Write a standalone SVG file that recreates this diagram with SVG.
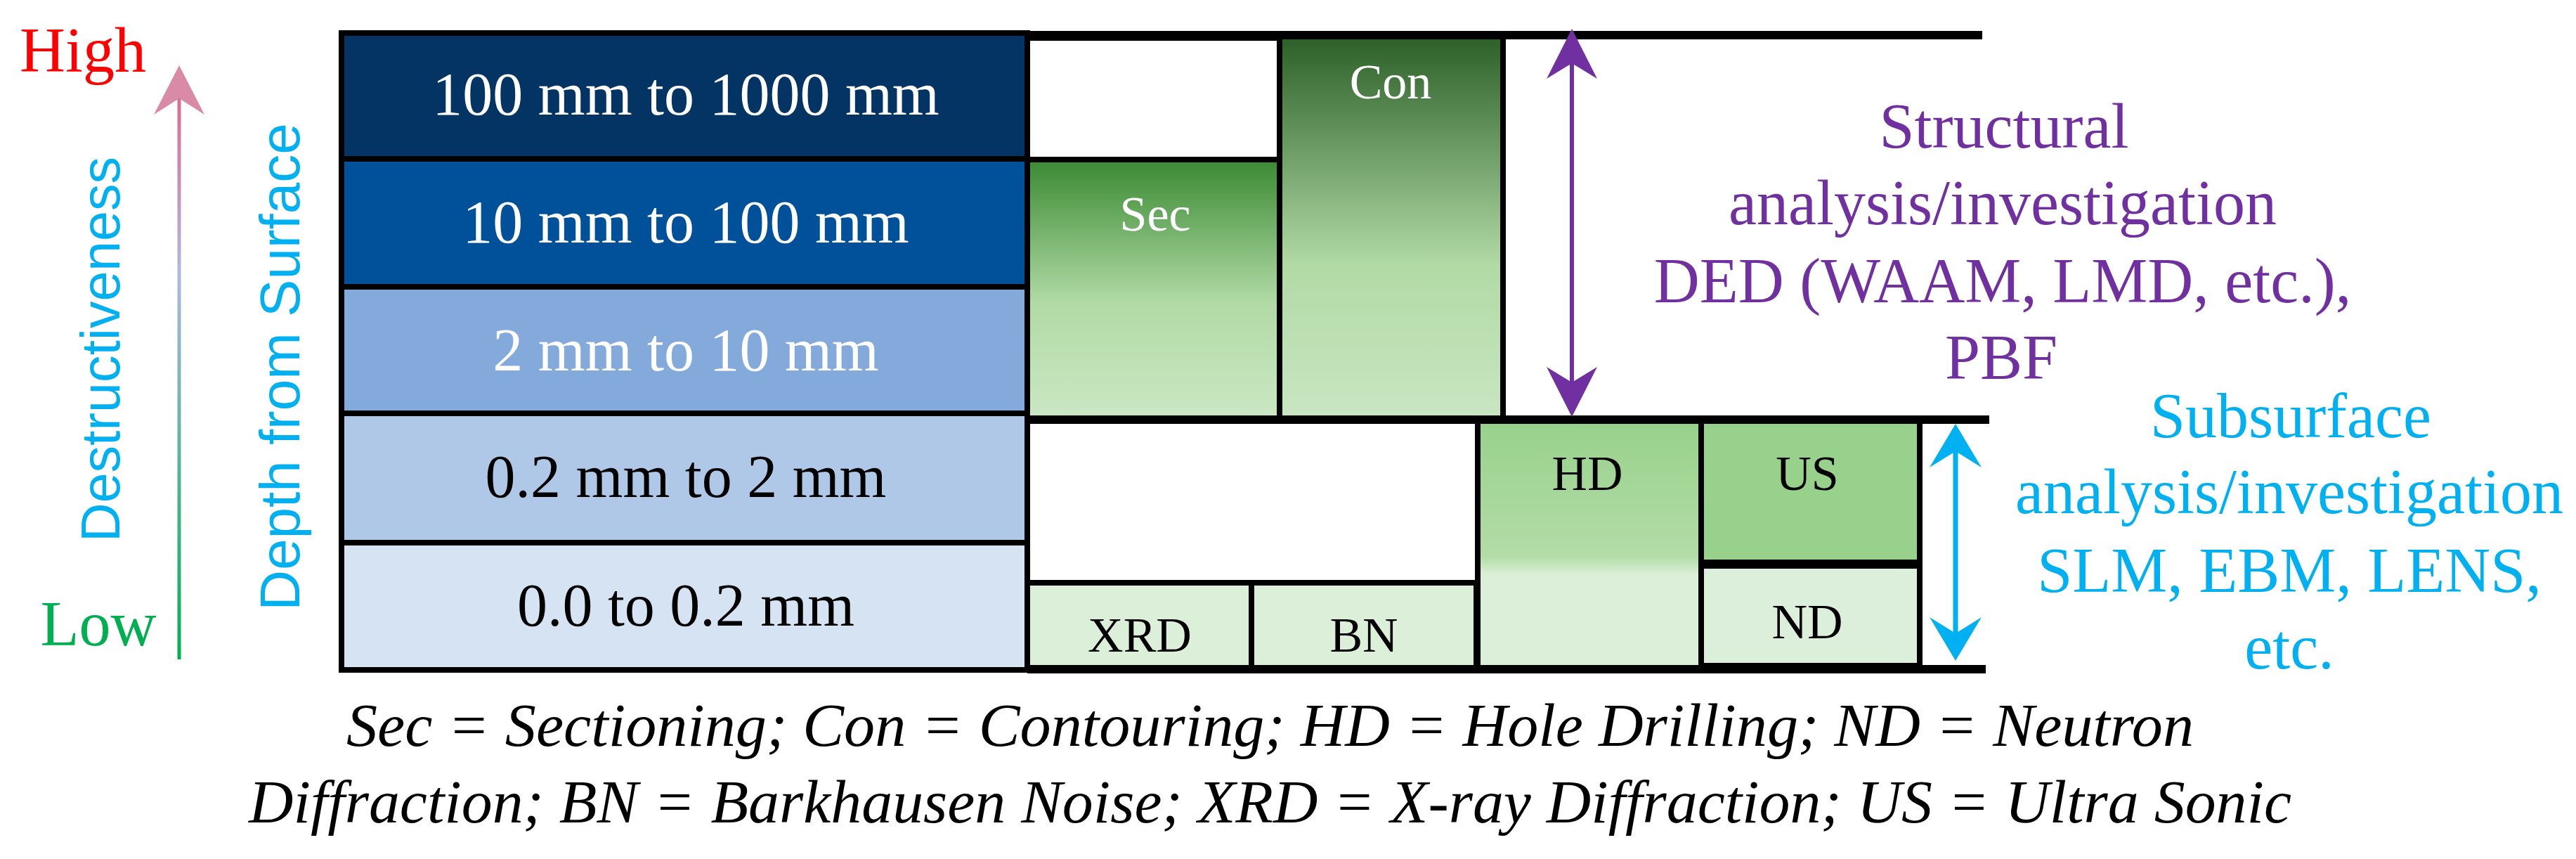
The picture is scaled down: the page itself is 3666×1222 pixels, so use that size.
<svg xmlns="http://www.w3.org/2000/svg" width="3666" height="1222" viewBox="0 0 3666 1222">
<style>
.t{font-family:"Liberation Serif","Times New Roman",serif;text-anchor:middle}
.s{font-family:"Liberation Sans",Arial,sans-serif;text-anchor:middle;fill:#00b0f0}
.row{font-size:86px}
.box{stroke:#000;stroke-width:8}
.lbl{font-size:70px}
.purple{fill:#7030a0;font-size:90px}
.blue{fill:#00b0f0;font-size:90px}
.cap{font-size:86px;font-style:italic;text-anchor:start}
</style>
<defs>
<linearGradient id="gSec" x1="0" y1="0" x2="0" y2="1">
<stop offset="0" stop-color="#3a8a33"/><stop offset="0.55" stop-color="#b1daa5"/><stop offset="1" stop-color="#cbe8c4"/>
</linearGradient>
<linearGradient id="gCon" x1="0" y1="0" x2="0" y2="1">
<stop offset="0" stop-color="#2a5e26"/><stop offset="0.6" stop-color="#b1daa5"/><stop offset="1" stop-color="#c9e6c2"/>
</linearGradient>
<linearGradient id="gHD" x1="0" y1="0" x2="0" y2="1">
<stop offset="0" stop-color="#97d18b"/><stop offset="0.55" stop-color="#b3dca7"/><stop offset="0.62" stop-color="#dcefd8"/><stop offset="1" stop-color="#dcefd8"/>
</linearGradient>
<linearGradient id="gArr" x1="0" y1="938" x2="0" y2="93" gradientUnits="userSpaceOnUse">
<stop offset="0" stop-color="#00b050"/><stop offset="0.65" stop-color="#b0b8e0"/><stop offset="1" stop-color="#e06080"/>
</linearGradient>
</defs>

<g id="axis">
<text class="t" x="118" y="102" font-size="90" fill="#ff0000">High</text>
<text class="t" x="140" y="918" font-size="90" fill="#00b050">Low</text>
<line x1="255" y1="938" x2="255" y2="140" stroke="url(#gArr)" stroke-width="5"/>
<path d="M255,93 L291,163 L255,140 L219,163 Z" fill="#d98aa6"/>
<text class="s" transform="translate(170,497) rotate(-90)" font-size="77">Destructiveness</text>
<text class="s" transform="translate(426,522) rotate(-90)" font-size="80">Depth from Surface</text>
</g>

<g id="depth-table">
<rect class="box" x="486" y="47" width="976" height="179" fill="#033463"/>
<rect class="box" x="486" y="226" width="976" height="182" fill="#01519a"/>
<rect class="box" x="486" y="408" width="976" height="180" fill="#84aadc"/>
<rect class="box" x="486" y="588" width="976" height="184" fill="#afc8e8"/>
<rect class="box" x="486" y="772" width="976" height="181" fill="#d6e3f3"/>
<text class="t row" x="976" y="163" fill="#fff">100 mm to 1000 mm</text>
<text class="t row" x="976" y="345" fill="#fff">10 mm to 100 mm</text>
<text class="t row" x="976" y="527" fill="#fff">2 mm to 10 mm</text>
<text class="t row" x="976" y="707" fill="#000">0.2 mm to 2 mm</text>
<text class="t row" x="976" y="890" fill="#000">0.0 to 0.2 mm</text>
</g>

<g id="empty-top"><rect class="box" x="1462" y="54" width="359" height="173" fill="#fff"/></g>
<g id="sec"><rect class="box" x="1462" y="227" width="359" height="370" fill="url(#gSec)"/>
<text class="t lbl" x="1644" y="328" fill="#fff">Sec</text></g>
<g id="con"><rect class="box" x="1821" y="48" width="318" height="549" fill="url(#gCon)"/>
<text class="t lbl" x="1979" y="140" fill="#fff">Con</text></g>
<g id="empty-bottom"><rect class="box" x="1462" y="597" width="641" height="232" fill="#fff"/></g>
<g id="xrd"><rect class="box" x="1462" y="829" width="319" height="123" fill="#dcefd8"/>
<text class="t lbl" x="1622" y="927" fill="#000">XRD</text></g>
<g id="bn"><rect class="box" x="1781" y="829" width="320" height="123" fill="#dcefd8"/>
<text class="t lbl" x="1941" y="927" fill="#000">BN</text></g>
<g id="hd"><rect class="box" x="2103" y="597" width="318" height="355" fill="url(#gHD)"/>
<text class="t lbl" x="2259" y="697" fill="#000">HD</text></g>
<g id="us"><rect class="box" x="2421" y="597" width="311" height="203" fill="#98d18c"/>
<text class="t lbl" x="2572" y="697" fill="#000">US</text></g>
<g id="nd"><rect class="box" x="2421" y="805" width="311" height="142" fill="#dcefdb"/>
<text class="t lbl" x="2572" y="908" fill="#000">ND</text></g>

<g id="connectors">
<line x1="1462" y1="50" x2="2821" y2="50" stroke="#000" stroke-width="12"/>
<line x1="1462" y1="597" x2="2831" y2="597" stroke="#000" stroke-width="12"/>
<line x1="1462" y1="952" x2="2826" y2="952" stroke="#000" stroke-width="12"/>
<line x1="2237" y1="50" x2="2237" y2="585" stroke="#7030a0" stroke-width="6"/>
<path d="M2237,41 L2273,112 L2237,90 L2201,112 Z" fill="#7030a0"/>
<path d="M2237,593 L2273,522 L2237,544 L2201,522 Z" fill="#7030a0"/>
<line x1="2783" y1="610" x2="2783" y2="932" stroke="#00b0f0" stroke-width="7"/>
<path d="M2783,603 L2820,665 L2783,642 L2746,665 Z" fill="#00b0f0"/>
<path d="M2783,940 L2820,878 L2783,901 L2746,878 Z" fill="#00b0f0"/>
</g>

<g id="structural-label">
<text class="t purple" x="2852" y="210">Structural</text>
<text class="t purple" x="2850" y="319">analysis/investigation</text>
<text class="t purple" x="2850" y="430">DED (WAAM, LMD, etc.),</text>
<text class="t purple" x="2848" y="539">PBF</text>
</g>
<g id="subsurface-label">
<text class="t blue" x="3260" y="622">Subsurface</text>
<text class="t blue" x="3258" y="730">analysis/investigation</text>
<text class="t blue" x="3258" y="842">SLM, EBM, LENS,</text>
<text class="t blue" x="3258" y="951">etc.</text>
</g>

<g id="caption">
<text class="t cap" x="493" y="1061" textLength="2629" lengthAdjust="spacingAndGlyphs">Sec = Sectioning; Con = Contouring; HD = Hole Drilling; ND = Neutron</text>
<text class="t cap" x="354" y="1170" textLength="2907" lengthAdjust="spacingAndGlyphs">Diffraction; BN = Barkhausen Noise; XRD = X-ray Diffraction; US = Ultra Sonic</text>
</g>
</svg>
